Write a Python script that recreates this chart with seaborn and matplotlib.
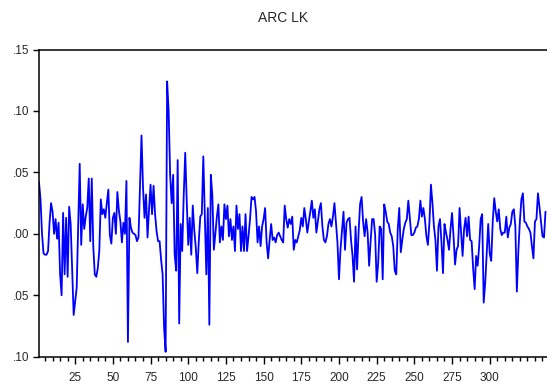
import numpy as np
import pandas as pd
import matplotlib
matplotlib.use("Agg")
import matplotlib.pyplot as plt
import seaborn as sns
from matplotlib.ticker import MultipleLocator, FixedLocator, FixedFormatter

title = "ARC LK"

seg1 = [.042, .028, .000, -.016, -.017, -.017, -.014, .009, .025, .018, .000, .012, -.004, .009, -.033, -.050, .017, -.033, .013, -.035]
seg2 = [.022, .008, -.028, -.066, -.055, -.044, .005, .057, -.009, .024, .004, .014, .021, .045, -.006, .045, -.010, -.033, -.035, -.028]
seg3 = [-.014, .028, .016, .020, .013, .025, .036, -.001, -.008, .013, .017, .000, .034, .019, .010, -.007, .009, .000, .043, -.088]
seg4 = [.013, .005, .001, .000, -.001, -.006, -.003, .039, .080, .038, .013, .032, -.003, .020, .040, .016, .039, .016, .002, -.006]
seg5 = [-.006, -.021, -.033, -.077, -.096, .124, .100, .048, .025, .048, -.017, -.030, .060, -.073, .008, -.014, .031, .066, .027, -.009]
seg6 = [.013, -.017, .023, .003, -.011, -.032, -.006, .014, .016, .063, .016, -.033, .021, -.074, .048, .031, -.013, .000, .014, .024]
seg7 = [-.007, .006, -.005, .024, .012, .023, -.002, .012, -.005, .006, -.014, .023, .004, .016, -.014, .006, -.014, .016, -.014, -.002]
seg8 = [.012, .030, .028, .030, .018, -.007, .006, -.010, .006, .012, .021, -.007, -.020, -.005, .008, -.005, -.003, -.007, -.001, .001]
seg9 = [-.002, -.005, -.007, .023, .012, .005, .012, .008, .014, -.013, -.005, -.007, -.002, .003, .013, .006, .021, .012, .001, .010]
seg10 = [.018, .027, .013, .020, .001, .010, .020, .025, .006, -.005, -.007, -.002, .008, .012, .006, .014, .025, .009, -.007, -.037]
seg11 = [-.013, .003, .018, -.013, .009, .012, .013, -.005, -.018, -.039, .006, -.029, .001, .024, .030, .010, -.002, .012, .001, -.026]
seg12 = [-.006, .012, .012, -.001, -.039, -.024, .006, .004, -.037, .024, .018, .010, .008, .001, -.002, -.010, -.030, -.033, .004, .021]
seg13 = [-.015, -.005, .004, .009, .012, .027, .013, -.001, -.001, .001, .005, .006, .012, .027, .014, .021, .012, -.002, -.009, .009]
seg14 = [.040, .025, .006, -.005, -.030, .006, .012, -.007, -.032, .008, .001, -.005, -.013, .004, .017, -.002, -.025, -.013, -.010, .021]
seg15 = [.001, -.018, .004, .013, -.002, .014, -.005, -.006, -.028, -.045, -.018, -.026, -.010, .012, .016, -.056, -.040, -.016, .008, -.016]
seg16 = [-.022, .010, .029, .018, .010, .020, .004, -.001, .001, .001, .014, -.003, .005, .008, .018, .020, .006, -.047, -.014, .010]
seg17 = [.028, .033, .010, .009, .006, .004, .001, -.010, -.020, .010, .012, .033, .022, .010, -.002, -.003, .018]

values = (seg1 + seg2 + seg3 + seg4 + seg5 + seg6 + seg7 + seg8 + seg9 + seg10 +
          seg11 + seg12 + seg13 + seg14 + seg15 + seg16 + seg17)
obs = list(range(1, len(values) + 1))

y_ticks = [-0.10, -0.05, 0.00, 0.05, 0.10, 0.15]
y_labels = [".10", ".05", ".00", ".05", ".10", ".15"]
x_ticks = [25, 50, 75, 100, 125, 150, 175, 200, 225, 250, 275, 300]
x_labels = ["25", "50", "75", "100", "125", "150", "175", "200", "225", "250", "275", "300"]

df = pd.DataFrame({"obs": obs, "value": values})

sns.set_theme(style="white")
plt.rcParams["font.family"] = ["Liberation Sans", "DejaVu Sans"]

W, H = 547, 390
fig = plt.figure(figsize=(W / 100, H / 100), dpi=100)
left = 39 / W
bottom = 1 - 356.7 / H
top = 1 - 49.5 / H
ax = fig.add_axes([left, bottom, 1.0 - left, top - bottom])

sns.lineplot(data=df, x="obs", y="value", ax=ax, color="#0000ff",
             linewidth=1.3, sort=False, estimator=None)

ax.set_xlim(1, 338)
ax.set_ylim(-0.10, 0.15)
ax.set_xlabel("")
ax.set_ylabel("")

ax.yaxis.set_major_locator(FixedLocator(y_ticks))
ax.yaxis.set_major_formatter(FixedFormatter(y_labels))
ax.xaxis.set_major_locator(FixedLocator(x_ticks))
ax.xaxis.set_major_formatter(FixedFormatter(x_labels))
ax.xaxis.set_minor_locator(MultipleLocator(5))

ax.tick_params(axis="y", which="major", direction="out", length=4, width=1,
               color="black", labelsize=8.5, pad=3, left=True)
ax.tick_params(axis="x", which="major", direction="out", length=5, width=1,
               color="black", labelsize=8.5, pad=6, bottom=True)
ax.tick_params(axis="x", which="minor", direction="out", length=3, width=1,
               color="black", bottom=True)

for side in ["left", "bottom", "top"]:
    ax.spines[side].set_visible(True)
    ax.spines[side].set_color("black")
    ax.spines[side].set_linewidth(1.1)
ax.spines["right"].set_visible(False)
ax.grid(False)

fig.text(283 / W, 1 - 18 / H, title, ha="center", va="center", fontsize=10)

fig.savefig("out.png", dpi=100)
